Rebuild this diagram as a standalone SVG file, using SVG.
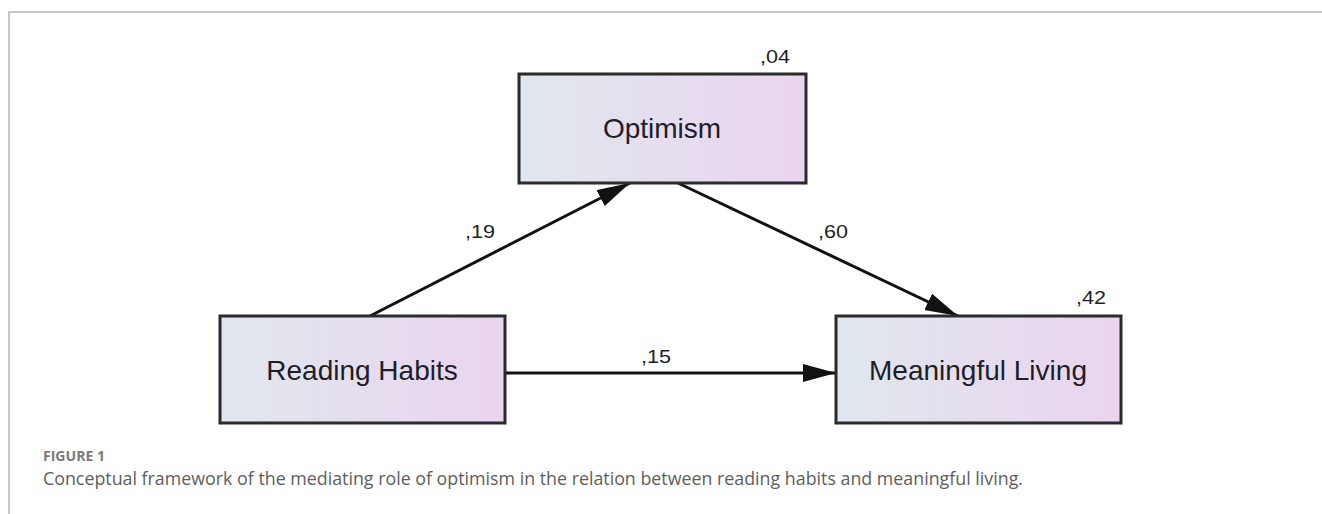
<svg xmlns="http://www.w3.org/2000/svg" width="1322" height="514" viewBox="0 0 1322 514">
  <style>
    .box { stroke: #2b2b2b; stroke-width: 3; fill: url(#g); }
    .lbl { font-family: "Liberation Sans", Arial, sans-serif; font-size: 28px; fill: #1e1e28; text-anchor: middle; }
    .num { font-family: "Liberation Sans", Arial, sans-serif; font-size: 19px; fill: #1e1e28; }
    .edge { stroke: #111; stroke-width: 3; fill: none; marker-end: url(#ah); }
    .frame { stroke: #b5b5b5; stroke-width: 1.5; fill: none; }
    .figno { font-family: "Open Sans", "Noto Sans", sans-serif; font-size: 14px; font-weight: bold; fill: #7a7a7a; }
    .cap { font-family: "Open Sans", "Noto Sans", sans-serif; font-size: 18px; fill: #5e5e5e; }
  </style>
  <defs>
    <linearGradient id="g" x1="0" y1="0" x2="1" y2="0">
      <stop offset="0" stop-color="#e0e7ed"/>
      <stop offset="1" stop-color="#ead4f0"/>
    </linearGradient>
    <marker id="ah" markerUnits="userSpaceOnUse" markerWidth="34" markerHeight="20" refX="33" refY="9" orient="auto">
      <path d="M0,0 L33,9 L0,18 z" fill="#111"/>
    </marker>
  </defs>
  <rect width="1322" height="514" fill="#ffffff"/>
  <path class="frame" d="M9,514 L9,12 L1322,12"/>

  <g id="connectors">
    <line class="edge" x1="370" y1="316" x2="630" y2="183"/>
    <line class="edge" x1="678" y1="183" x2="958" y2="316"/>
    <line class="edge" x1="505" y1="373" x2="836" y2="373"/>
    <text class="num" x="465" y="238" textLength="30" lengthAdjust="spacingAndGlyphs">,19</text>
    <text class="num" x="818" y="238" textLength="30" lengthAdjust="spacingAndGlyphs">,60</text>
    <text class="num" x="641" y="363" textLength="30" lengthAdjust="spacingAndGlyphs">,15</text>
  </g>

  <g id="optimism">
    <rect class="box" x="519" y="74" width="287" height="109"/>
    <text class="lbl" x="662" y="138">Optimism</text>
    <text class="num" x="760" y="63" textLength="30" lengthAdjust="spacingAndGlyphs">,04</text>
  </g>
  <g id="reading-habits">
    <rect class="box" x="220" y="316" width="285" height="107"/>
    <text class="lbl" x="362" y="380">Reading Habits</text>
  </g>
  <g id="meaningful-living">
    <rect class="box" x="836" y="316" width="285" height="107"/>
    <text class="lbl" x="978" y="380">Meaningful Living</text>
    <text class="num" x="1076" y="304" textLength="30" lengthAdjust="spacingAndGlyphs">,42</text>
  </g>

  <text class="figno" x="43" y="461" textLength="62" lengthAdjust="spacingAndGlyphs">FIGURE 1</text>
  <text class="cap" x="43" y="485" textLength="980" lengthAdjust="spacingAndGlyphs">Conceptual framework of the mediating role of optimism in the relation between reading habits and meaningful living.</text>
</svg>
